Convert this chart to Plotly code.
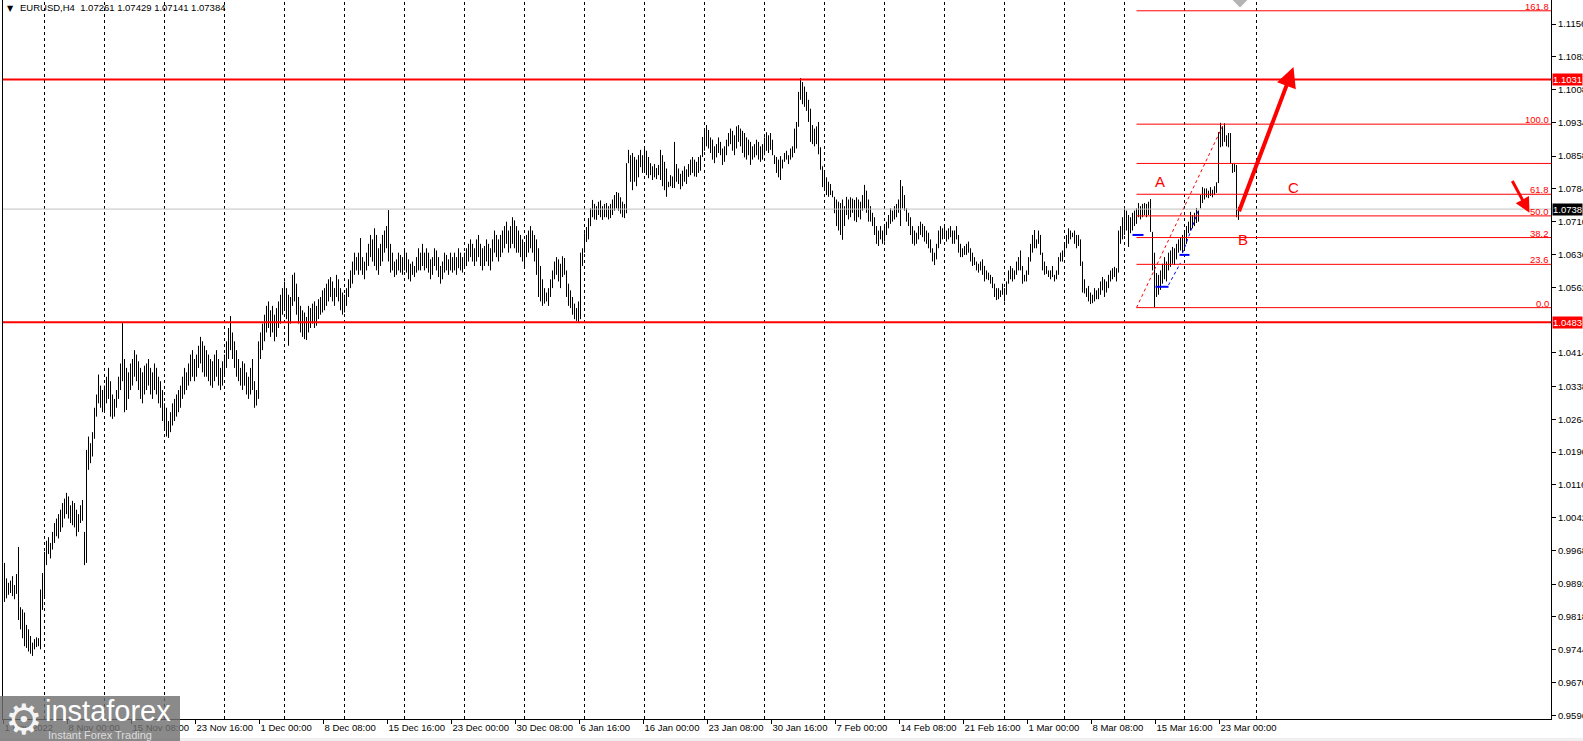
import plotly.graph_objects as go

# EURUSD H4 bars (high / low in pips), 1 Nov 2022 -> 24 Mar 2023
HIGH = [
    9940, 9905, 9895, 9900, 9910, 9890, 9915, 9976,
    9840, 9835, 9828, 9800, 9790, 9775, 9760,
    9768, 9772, 9770, 9880, 9917, 9965,
    9990, 9998, 9985, 10010, 10030, 10040, 10050, 10060, 10075, 10085, 10098,
    10090, 10070, 10080, 10075, 10060, 10050, 10070, 10082, 10010,
    10195, 10225, 10210, 10235, 10290, 10320, 10365, 10340, 10330,
    10340, 10360, 10380, 10350, 10320, 10310, 10330, 10360, 10390, 10481, 10400,
    10380, 10370, 10390, 10400, 10420, 10410, 10395, 10380, 10370, 10385,
    10390, 10400, 10380, 10370, 10390, 10380, 10360, 10350, 10330, 10300,
    10290, 10260, 10280, 10300, 10310, 10320,
    10330, 10340, 10360, 10380, 10370, 10390, 10410, 10420, 10400, 10410, 10430, 10450, 10440, 10430,
    10420, 10410, 10400, 10395, 10410, 10420, 10400, 10380, 10395, 10410, 10440, 10470,
    10497, 10460, 10440, 10420, 10400, 10380, 10395, 10390, 10370, 10360, 10380, 10400, 10350, 10330, 10440, 10460,
    10480, 10500, 10520, 10530, 10510, 10520, 10500, 10515, 10530, 10545, 10560, 10575,
    10560, 10545, 10540, 10590, 10595, 10570, 10540, 10520, 10510, 10505, 10495, 10520, 10515, 10525, 10530, 10520, 10535, 10540, 10555, 10560,
    10570, 10580, 10585, 10575, 10560, 10590, 10580, 10560, 10550, 10545, 10560, 10580, 10600, 10620, 10640, 10630,
    10640, 10673, 10630, 10620, 10640, 10660, 10680, 10670, 10695, 10680, 10650, 10660, 10680, 10690, 10700, 10736,
    10660, 10640, 10620, 10625, 10640, 10635, 10630, 10650, 10640, 10625, 10615, 10620, 10610, 10630, 10650, 10640,
    10660, 10640, 10650, 10640, 10625, 10630, 10650, 10645, 10630, 10610, 10620, 10640, 10635, 10625, 10640, 10630,
    10640, 10630, 10650, 10640, 10630, 10640, 10650, 10660, 10670, 10660, 10650, 10670, 10680, 10660, 10650, 10655,
    10670, 10660, 10650, 10670, 10690, 10680, 10670, 10680, 10690, 10700, 10710, 10690, 10700, 10720, 10713, 10700,
    10690, 10680, 10670, 10660, 10680, 10690, 10700, 10690, 10680, 10670, 10650, 10610, 10580, 10560, 10550, 10560,
    10580, 10600, 10620, 10630, 10625, 10615, 10632, 10628, 10600, 10570, 10555, 10540, 10525, 10515,
    10530, 10640, 10650, 10684, 10698, 10718, 10740, 10759, 10750, 10745, 10755, 10758, 10745, 10750,
    10752, 10745, 10750, 10760, 10770, 10777, 10775, 10765, 10755, 10750, 10842,
    10872, 10860, 10865, 10856, 10850, 10860, 10872, 10860,
    10876, 10870, 10856, 10842, 10835, 10840, 10831, 10838, 10872, 10860, 10845, 10830,
    10800, 10815, 10812, 10890, 10840, 10830, 10818, 10825, 10835, 10828,
    10840, 10850, 10856, 10850, 10845, 10856, 10860,
    10901, 10915, 10928, 10917,
    10900, 10895, 10880, 10885, 10900, 10890, 10875, 10880, 10895,
    10910, 10920, 10915, 10905, 10925, 10928, 10920, 10915, 10910, 10900,
    10895, 10890, 10880, 10885, 10895, 10890, 10880, 10885, 10900,
    10912, 10905, 10910, 10895,
    10860, 10856, 10850, 10858, 10850,
    10865, 10870, 10860, 10875, 10880,
    10920, 10935, 11003, 11034, 11025, 11015,
    11003, 10985, 10965, 10928, 10920, 10925, 10935, 10878,
    10835, 10820, 10810, 10800, 10795, 10780,
    10766, 10760, 10755, 10752, 10760, 10745,
    10766, 10760, 10765, 10762, 10759, 10765, 10760, 10755,
    10770, 10793, 10780, 10760,
    10745, 10730, 10720, 10700, 10690, 10700,
    10690, 10700, 10710, 10725, 10740, 10735,
    10745, 10750, 10760, 10804, 10790, 10770,
    10740, 10730, 10720, 10700, 10690, 10685,
    10700, 10710, 10705, 10700, 10690, 10685,
    10670, 10650, 10640, 10660, 10690, 10700,
    10695, 10700, 10690, 10695, 10700, 10690,
    10690, 10700, 10680, 10660, 10650, 10655,
    10660, 10665, 10650, 10640, 10630, 10620,
    10615, 10620, 10625, 10610, 10600, 10595,
    10590, 10585, 10570, 10560, 10560, 10555,
    10570, 10560, 10575, 10600, 10610, 10605,
    10600, 10620, 10630, 10645, 10610, 10590,
    10600, 10630, 10660, 10680, 10691, 10670,
    10690, 10680, 10640, 10620, 10610, 10600,
    10600, 10610, 10590, 10600, 10630, 10640,
    10645, 10660, 10680, 10695, 10690, 10685,
    10690, 10680, 10680, 10670, 10620, 10580,
    10560, 10565, 10550, 10545, 10560, 10555,
    10560, 10575, 10585, 10580, 10575, 10590,
    10600, 10605, 10608, 10605, 10690, 10700,
    10720, 10741, 10735, 10725, 10720, 10730,
    10735, 10740, 10752, 10745, 10750, 10752,
    10750, 10755, 10761, 10687, 10640, 10594,
    10590, 10600, 10615, 10630, 10620, 10640,
    10645, 10653, 10650, 10660, 10670, 10675,
    10680, 10691, 10700, 10710, 10732, 10725,
    10730, 10741, 10735, 10770, 10788, 10785,
    10785, 10780, 10788, 10782, 10790, 10799,
    10912, 10933, 10925, 10932, 10905, 10910,
    10910, 10842, 10840, 10838, 10743,
]
LOW = [
    9852, 9860, 9868, 9872, 9865, 9858, 9870, 9811,
    9790, 9770, 9752, 9748, 9740, 9735, 9730,
    9745, 9750, 9752, 9745, 9834, 9863,
    9935, 9960, 9950, 9970, 9985, 10000, 9995, 10010, 10020, 10040, 10050,
    10040, 10030, 10025, 10020, 10000, 10010, 10030, 10035, 9935,
    9940, 10150, 10165, 10180, 10220, 10270, 10300, 10290, 10280,
    10280, 10300, 10310, 10270, 10265, 10270, 10290, 10310, 10330, 10350, 10280,
    10285, 10310, 10330, 10340, 10360, 10350, 10330, 10310, 10300, 10320,
    10330, 10340, 10320, 10310, 10330, 10320, 10300, 10290, 10260, 10240,
    10225, 10222, 10235, 10250, 10260, 10270,
    10280, 10290, 10310, 10320, 10330, 10340, 10350, 10360, 10350, 10360, 10380, 10390, 10370, 10360,
    10360, 10350, 10340, 10335, 10350, 10360, 10340, 10330, 10340, 10360, 10380, 10400,
    10420, 10400, 10380, 10360, 10350, 10340, 10330, 10340, 10320, 10310, 10320, 10330, 10290, 10295, 10310, 10400,
    10420, 10440, 10460, 10470, 10450, 10460, 10440, 10450, 10470, 10480, 10500, 10510,
    10490, 10430, 10480, 10520, 10530, 10500, 10480, 10460, 10450, 10445, 10443, 10460, 10470, 10480, 10470, 10475, 10490, 10500, 10505, 10510,
    10520, 10530, 10540, 10530, 10520, 10540, 10530, 10510, 10500, 10505, 10520, 10540, 10560, 10570, 10590, 10600,
    10590, 10600, 10590, 10580, 10600, 10610, 10630, 10620, 10610, 10600, 10590, 10610, 10620, 10640, 10650, 10620,
    10595, 10600, 10585, 10590, 10600, 10595, 10590, 10600, 10595, 10580, 10575, 10590, 10585, 10595, 10600, 10600,
    10610, 10600, 10605, 10595, 10580, 10590, 10610, 10600, 10585, 10570, 10580, 10595, 10600, 10590, 10600, 10595,
    10600, 10590, 10605, 10600, 10595, 10605, 10610, 10620, 10630, 10620, 10610, 10620, 10630, 10610, 10600, 10610,
    10620, 10610, 10600, 10620, 10640, 10630, 10620, 10630, 10640, 10650, 10660, 10640, 10650, 10660, 10650, 10640,
    10640, 10630, 10620, 10610, 10630, 10640, 10650, 10640, 10620, 10590, 10540, 10530, 10520, 10525, 10530, 10520,
    10540, 10560, 10580, 10590, 10575, 10560, 10585, 10590, 10540, 10520, 10515, 10500, 10490, 10486,
    10483, 10490, 10610, 10640, 10664, 10670, 10700, 10720, 10715, 10714, 10725, 10720, 10714, 10720,
    10720, 10715, 10718, 10725, 10735, 10740, 10735, 10728, 10720, 10718, 10729,
    10842, 10800, 10781, 10800, 10790, 10810, 10833, 10820,
    10820, 10815, 10808, 10815, 10804, 10810, 10806, 10815, 10804, 10790, 10781, 10766,
    10788, 10790, 10786, 10786, 10800, 10795, 10783, 10790, 10800, 10795,
    10811, 10815, 10820, 10812, 10811, 10820, 10825,
    10856, 10870, 10880, 10875,
    10865, 10850, 10842, 10855, 10865, 10860, 10838, 10845, 10860,
    10880, 10885, 10870, 10860, 10875, 10890, 10880, 10865, 10855, 10850,
    10860, 10838, 10850, 10855, 10860, 10850, 10845, 10850, 10860,
    10870, 10865, 10872, 10860,
    10840, 10820, 10810, 10804, 10830,
    10845, 10850, 10840, 10850, 10855,
    10865, 10875, 10924, 10985, 10975, 10969,
    10960, 10935, 10890, 10885, 10880, 10885, 10862, 10827,
    10788, 10780, 10770, 10766, 10770, 10765,
    10729, 10700, 10690, 10680, 10669, 10700,
    10725, 10715, 10720, 10730, 10712, 10709, 10720, 10715,
    10735, 10740, 10730, 10710,
    10710, 10700, 10680, 10660, 10655, 10670,
    10660, 10665, 10680, 10695, 10705, 10710,
    10715, 10720, 10730, 10700, 10740, 10735,
    10710, 10700, 10680, 10660, 10656, 10660,
    10670, 10680, 10675, 10665, 10660, 10650,
    10640, 10620, 10612, 10625, 10650, 10660,
    10670, 10675, 10665, 10670, 10675, 10660,
    10660, 10670, 10640, 10630, 10630, 10635,
    10635, 10640, 10620, 10610, 10612, 10600,
    10595, 10600, 10590, 10575, 10580, 10578,
    10570, 10560, 10540, 10533, 10535, 10540,
    10545, 10530, 10545, 10570, 10580, 10575,
    10580, 10590, 10600, 10600, 10570, 10575,
    10575, 10590, 10620, 10640, 10650, 10650,
    10660, 10635, 10600, 10590, 10592, 10585,
    10580, 10585, 10575, 10580, 10590, 10620,
    10620, 10635, 10650, 10660, 10670, 10675,
    10660, 10650, 10655, 10610, 10550, 10548,
    10540, 10530, 10524, 10526, 10530, 10535,
    10535, 10545, 10555, 10540, 10550, 10560,
    10575, 10580, 10585, 10575, 10595, 10660,
    10670, 10680, 10690, 10653, 10684, 10690,
    10700, 10705, 10720, 10715, 10720, 10725,
    10720, 10725, 10687, 10600, 10517, 10540,
    10545, 10556, 10570, 10580, 10575, 10600,
    10608, 10615, 10612, 10625, 10640, 10645,
    10640, 10650, 10660, 10684, 10690, 10695,
    10700, 10707, 10710, 10740, 10752, 10760,
    10765, 10763, 10768, 10765, 10770, 10775,
    10797, 10878, 10880, 10890, 10880, 10878,
    10842, 10820, 10822, 10720, 10714,
]
assert len(HIGH) == len(LOW)

X_LABELS = ['1 Nov 2022', '8 Nov 00:00', '15 Nov 08:00', '23 Nov 16:00', '1 Dec 00:00',
            '8 Dec 08:00', '15 Dec 16:00', '23 Dec 00:00', '30 Dec 08:00', '6 Jan 16:00',
            '16 Jan 00:00', '23 Jan 08:00', '30 Jan 16:00', '7 Feb 00:00', '14 Feb 08:00',
            '21 Feb 16:00', '1 Mar 00:00', '8 Mar 08:00', '15 Mar 16:00', '23 Mar 00:00']
# 1.0488 sits under the support price box, so it is not listed
Y_TICKS = [1.1156, 1.1082, 1.1008, 1.0934, 1.0858, 1.0784, 1.0710, 1.0636, 1.0562,
           1.0414, 1.0338, 1.0264, 1.0190, 1.0116, 1.0042, 0.9968, 0.9892, 0.9818, 0.9744,
           0.9670, 0.9596]

TITLE = 'EURUSD,H4  1.07261 1.07429 1.07141 1.07384'
RESISTANCE = 1.1031
SUPPORT = 1.0483
LAST_PRICE = 1.07384

# fibonacci retracement drawn on the last leg
FIB_START = 566
FIB_TOP_BAR = 609.5
FIB_LOW = 1.0516
FIB_HIGH = 1.0930
FIB_LEVELS = [0.0, 23.6, 38.2, 50.0, 61.8, 78.6, 100.0, 161.8]
FIB_LABELLED = [True, True, True, True, True, False, True, True]

# small blue step marks and dotted trend pieces
BLUE_STEPS = [(564, 569.5, 1.0680), (575.5, 582, 1.0563), (587.5, 592.5, 1.0635)]
BLUE_TRENDS = [((582, 1.0567), (588, 1.0617)), ((589, 1.0639), (597, 1.0736))]

WAVES = [('A', 577.5, 1.0800), ('B', 619, 1.0669), ('C', 644.5, 1.0786)]
BIG_ARROW = ((617, 1.0730), (644.5, 1.1059))
SMALL_ARROW = ((753.5, 1.0805), (762.5, 1.0730))
MARKER_TOP = (617.75, 1.12125)

X_RANGE = [-0.75, 773.25]
Y_RANGE = [0.95877, 1.12102]
FONT = 'Liberation Sans'
RED = '#ff0000'
BLUE = '#0000ff'

W, H = 1583, 741
ML, MR, MT, MB = 3, 32, 0, 22
PW, PH = W - ML - MR, H - MT - MB


def px_x(p):
    return (p - ML) / PW


def px_y(p):
    return (PH - p) / PH


fig = go.Figure()

# vertical dotted grid (every 30 bars) plus the extra separator
for gx in list(range(20, 600, 30)) + [626]:
    fig.add_shape(type='line', xref='x', yref='paper', x0=gx, x1=gx, y0=0, y1=1,
                  line=dict(color='black', width=1, dash='3px,3px'), layer='below')

# price bars
bx, by = [], []
for i, (hi, lo) in enumerate(zip(HIGH, LOW)):
    bx += [i, i, None]
    by += [lo / 10000, hi / 10000, None]
fig.add_trace(go.Scatter(x=bx, y=by, mode='lines', line=dict(color='black', width=1),
                         hoverinfo='skip'))

# horizontal levels
fig.add_hline(y=LAST_PRICE, line=dict(color='#c0c0c0', width=1))
fig.add_hline(y=RESISTANCE, line=dict(color=RED, width=2))
fig.add_hline(y=SUPPORT, line=dict(color=RED, width=2))

rng = FIB_HIGH - FIB_LOW
for lvl, lab in zip(FIB_LEVELS, FIB_LABELLED):
    price = FIB_LOW + rng * lvl / 100
    fig.add_trace(go.Scatter(x=[FIB_START, X_RANGE[1]], y=[price, price], mode='lines',
                             line=dict(color=RED, width=1), hoverinfo='skip'))
    if lab:
        fig.add_annotation(x=1, xref='paper', xanchor='right', xshift=-1, y=price, yref='y',
                           yanchor='bottom', yshift=-2, text=f'{lvl:.1f}', showarrow=False,
                           font=dict(color=RED, size=9.5, family=FONT), borderpad=0)

fig.add_trace(go.Scatter(x=[FIB_START, FIB_TOP_BAR], y=[FIB_LOW, FIB_HIGH], mode='lines',
                         line=dict(color=RED, width=1, dash='dot'), hoverinfo='skip'))

for (x0, y0), (x1, y1) in BLUE_TRENDS:
    fig.add_trace(go.Scatter(x=[x0, x1], y=[y0, y1], mode='lines',
                             line=dict(color=BLUE, width=1, dash='dot'), hoverinfo='skip'))
for x0, x1, yv in BLUE_STEPS:
    fig.add_trace(go.Scatter(x=[x0, x1], y=[yv, yv], mode='lines',
                             line=dict(color=BLUE, width=2), hoverinfo='skip'))

fig.add_trace(go.Scatter(x=[MARKER_TOP[0]], y=[MARKER_TOP[1]], mode='markers',
                         marker=dict(symbol='diamond', size=13, color='#b4b4b4'),
                         hoverinfo='skip'))

for (tx, ty), (hx, hy), wd in [(BIG_ARROW[0], BIG_ARROW[1], 4), (SMALL_ARROW[0], SMALL_ARROW[1], 3)]:
    fig.add_annotation(x=hx, y=hy, ax=tx, ay=ty, xref='x', yref='y', axref='x', ayref='y',
                       text='', showarrow=True, arrowhead=2, arrowsize=1, arrowwidth=wd,
                       arrowcolor=RED, standoff=0)

for txt, wx, wy in WAVES:
    fig.add_annotation(x=wx, y=wy, text=txt, showarrow=False, xanchor='center',
                       yanchor='middle', font=dict(color=RED, size=15, family=FONT))

# price boxes on the right scale
for val, bg in [(RESISTANCE, RED), (SUPPORT, RED), (LAST_PRICE, 'black')]:
    fig.add_annotation(x=1, xref='paper', xanchor='left', xshift=1, y=val, yref='y',
                       yanchor='middle', text=f'{val:.4f}', showarrow=False, bgcolor=bg,
                       borderpad=0, font=dict(color='white', size=9.5, family=FONT))

# symbol header
fig.add_annotation(x=px_x(10), y=px_y(8), xref='paper', yref='paper', text='▼',
                   xanchor='center', yanchor='middle', showarrow=False,
                   font=dict(size=8, color='black', family='DejaVu Sans'))
fig.add_annotation(x=px_x(18), y=px_y(7), xref='paper', yref='paper', xanchor='left',
                   yanchor='middle', text=TITLE, showarrow=False,
                   font=dict(size=9.5, color='black', family=FONT))

# bottom strip and watermark
fig.add_shape(type='rect', xref='paper', yref='paper', x0=px_x(0), x1=px_x(W), y0=px_y(738), y1=px_y(W),
              fillcolor='#f0f0f0', line=dict(width=0), layer='above')
fig.add_shape(type='rect', xref='paper', yref='paper', x0=px_x(0), x1=px_x(180), y0=px_y(696), y1=px_y(741),
              fillcolor='rgba(112,112,112,0.82)', line=dict(width=0), layer='above')
fig.add_annotation(x=px_x(24), y=px_y(719), xref='paper', yref='paper', text='⚙', showarrow=False,
                   xanchor='center', yanchor='middle',
                   font=dict(size=42, color='#f4f4f4', family='DejaVu Sans'))
fig.add_annotation(x=px_x(43), y=px_y(711), xref='paper', yref='paper', xanchor='left',
                   yanchor='middle', text='instaforex', showarrow=False,
                   font=dict(size=29, color='white', family=FONT))
fig.add_annotation(x=px_x(46), y=px_y(735), xref='paper', yref='paper', xanchor='left',
                   yanchor='middle', text='Instant Forex Trading', showarrow=False,
                   font=dict(size=11, color='#dcdcdc', family=FONT))

fig.update_layout(
    width=W, height=H,
    margin=dict(l=ML, r=MR, t=MT, b=MB, pad=0, autoexpand=False),
    plot_bgcolor='white', paper_bgcolor='white',
    showlegend=False,
    hovermode=False,
    font=dict(family=FONT, size=9.5, color='black'),
    xaxis=dict(range=X_RANGE, tickvals=[32 * k - 0.5 for k in range(len(X_LABELS))],
               ticktext=X_LABELS, ticks='outside', ticklen=4, tickcolor='black',
               ticklabelposition='outside right', tickangle=0, automargin=False,
               showgrid=False, zeroline=False,
               showline=True, linecolor='black', linewidth=1, fixedrange=True),
    yaxis=dict(range=Y_RANGE, side='right', tickvals=Y_TICKS,
               ticktext=[f'{v:.4f}' for v in Y_TICKS], ticks='outside', ticklen=4,
               tickcolor='black', showgrid=False, zeroline=False, showline=True,
               mirror=True, linecolor='black', linewidth=1, fixedrange=True,
               automargin=False),
)

fig.write_html('out.html', config={'displayModeBar': False},
               post_script="document.body.style.margin='0';")
